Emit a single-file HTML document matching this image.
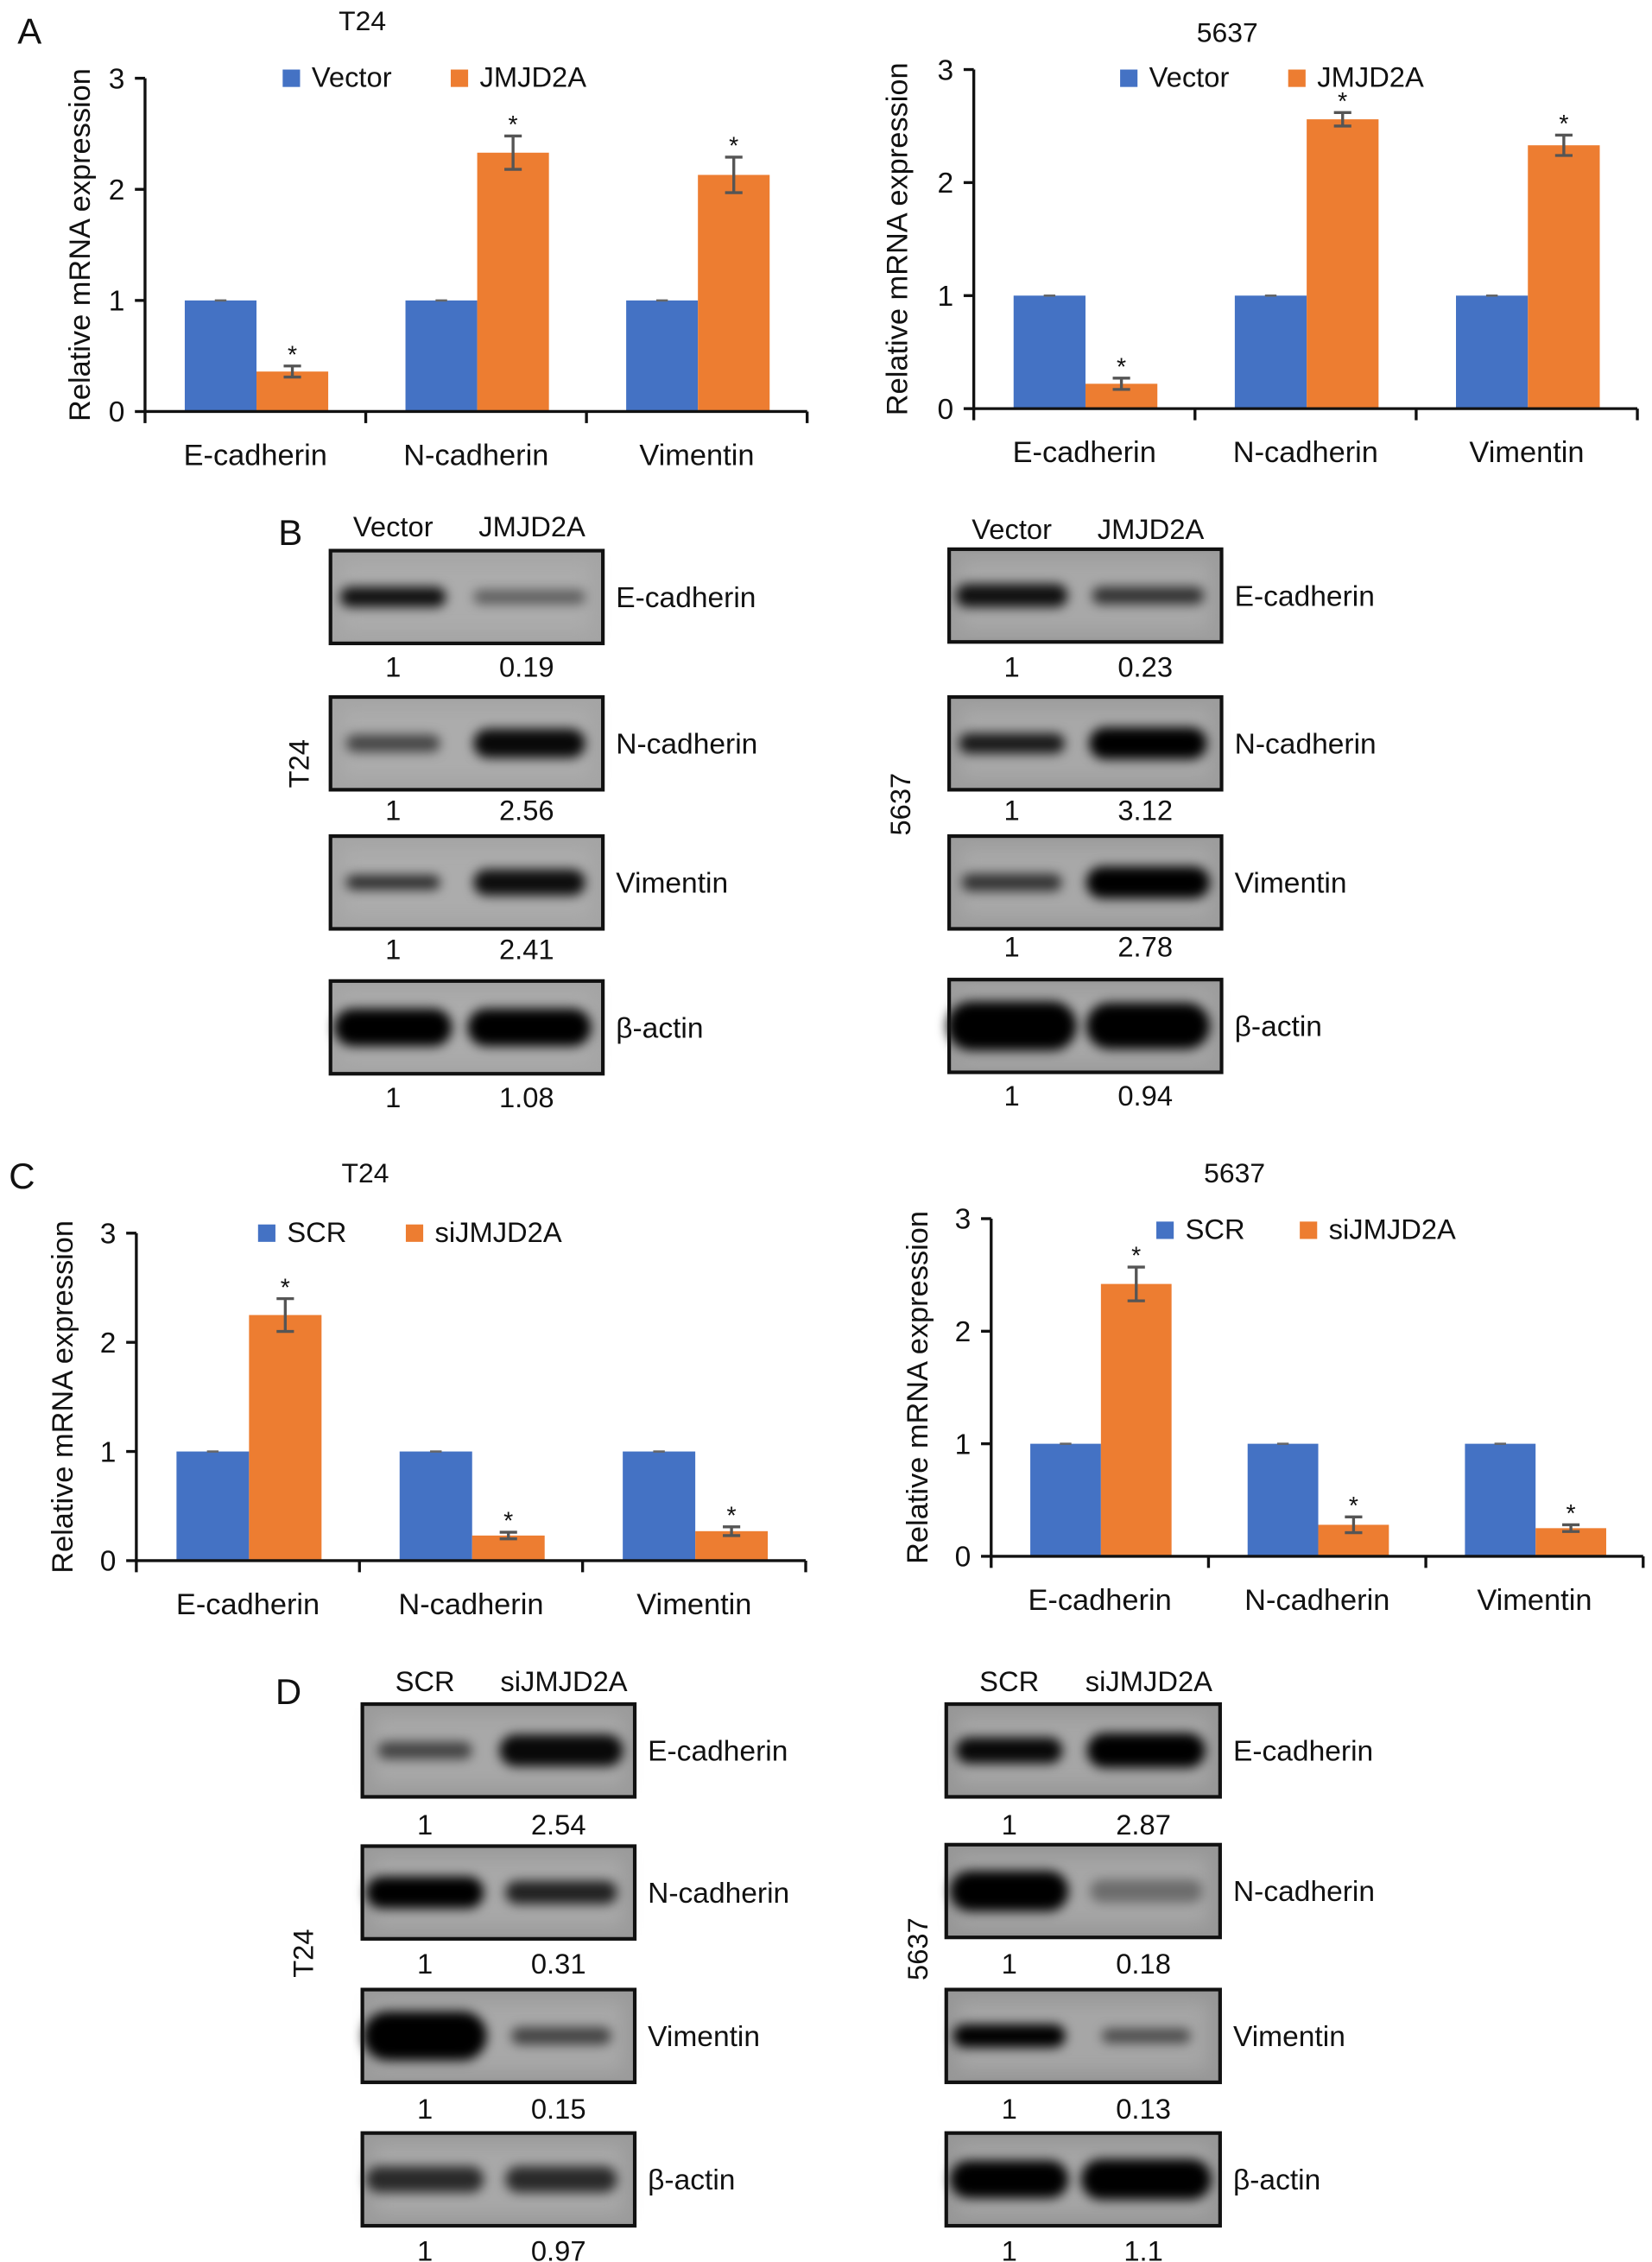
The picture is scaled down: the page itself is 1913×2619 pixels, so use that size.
<!DOCTYPE html>
<html><head><meta charset="utf-8">
<style>
html,body{margin:0;padding:0;background:#fff;}
svg{display:block;font-family:"Liberation Sans",Arial,sans-serif;}
</style></head>
<body>
<svg id="fig" width="1913" height="2619" viewBox="0 0 1140 1561" xmlns="http://www.w3.org/2000/svg">
<defs>
<filter id="blur" x="-30%" y="-80%" width="160%" height="260%"><feGaussianBlur stdDeviation="3.8"/></filter>
<filter id="blur2" x="-10%" y="-10%" width="120%" height="120%"><feGaussianBlur stdDeviation="6"/></filter>
</defs>
<g id="root"></g>
</svg>
<script>
// ---- Chart data ----
const categories = ["E-cadherin","N-cadherin","Vimentin"];
const yTicks = [0,1,2,3];
const aT24Vector = [1,1,1];
const aT24Jmjd = [0.36,2.33,2.13];
const aT24JmjdErr = [0.05,0.15,0.16];
const a5637Vector = [1,1,1];
const a5637Jmjd = [0.22,2.56,2.33];
const a5637JmjdErr = [0.05,0.06,0.09];
const cT24Scr = [1,1,1];
const cT24Si = [2.25,0.23,0.27];
const cT24SiErr = [0.15,0.03,0.04];
const c5637Scr = [1,1,1];
const c5637Si = [2.42,0.28,0.25];
const c5637SiErr = [0.15,0.07,0.03];
// ---- Blot quantification ----
const blotTargets = ["E-cadherin","N-cadherin","Vimentin","β-actin"];
const bT24Values = [["1","0.19"],["1","2.56"],["1","2.41"],["1","1.08"]];
const b5637Values = [["1","0.23"],["1","3.12"],["1","2.78"],["1","0.94"]];
const dT24Values = [["1","2.54"],["1","0.31"],["1","0.15"],["1","0.97"]];
const d5637Values = [["1","2.87"],["1","0.18"],["1","0.13"],["1","1.1"]];

const NS="http://www.w3.org/2000/svg";
const root=document.getElementById('root');
function el(tag,attrs,parent,text){
  const e=document.createElementNS(NS,tag);
  for(const k in attrs) e.setAttribute(k,attrs[k]);
  if(text!==undefined) e.textContent=text;
  (parent||root).appendChild(e);
  return e;
}
function txt(x,y,s,size,parent,anchor,extra){
  const t=el('text',Object.assign({x:x,y:y,'font-size':size,'text-anchor':anchor||'middle',fill:'#111'},extra||{}),parent,s);
  return t;
}

function chart(o){
  const g=el('g',{});
  
  
  const yS=v=>o.y0-(o.y0-o.y3)*v/3;
  const gw=(o.xEnd-o.x0)/categories.length;
  const xS=i=>o.x0+gw*i;
  const t=txt(o.titleX,o.titleY,o.title,19,g);
  
  
  const lg=el('g',{},g);
  
  
  el('rect',{x:o.leg1X,y:o.legY-6,width:12,height:12,fill:'#4472C4'},lg);
  txt(o.leg1X+20,o.legY+6,o.s1,19.5,lg,'start');
  el('rect',{x:o.leg2X,y:o.legY-6,width:12,height:12,fill:'#ED7D31'},lg);
  txt(o.leg2X+20,o.legY+6,o.s2,19.5,lg,'start');
  categories.forEach((c,i)=>{
    const gx=xS(i)+gw*0.18, bw=gw*0.325;
    const b1=el('rect',{x:gx,y:yS(o.d1[i]),width:bw,height:o.y0-yS(o.d1[i]),fill:'#4472C4'},g);
    
    
    el('line',{x1:gx+bw/2-4,x2:gx+bw/2+4,y1:yS(o.d1[i]),y2:yS(o.d1[i]),stroke:'#666','stroke-width':1.5},g);
    const b2=el('rect',{x:gx+bw,y:yS(o.d2[i]),width:bw,height:o.y0-yS(o.d2[i]),fill:'#ED7D31'},g);
    
    
    const cx=gx+bw*1.5, top=yS(o.d2[i]+o.e2[i]), bot=yS(o.d2[i]-o.e2[i]);
    const eb=el('g',{stroke:'#555','stroke-width':2},g);
    
    
    el('line',{x1:cx,x2:cx,y1:top,y2:bot},eb);
    el('line',{x1:cx-6,x2:cx+6,y1:top,y2:top},eb);
    el('line',{x1:cx-6,x2:cx+6,y1:bot,y2:bot},eb);
    const st=txt(cx,top-2,'*',17,g);
    
    
    const cl=txt(xS(i)+gw/2,o.y0+37,c,20.5,g);
    
    
  });
  el('line',{x1:o.x0,x2:o.x0,y1:o.y3,y2:o.y0,stroke:'#111','stroke-width':2},g);
  el('line',{x1:o.x0,x2:o.xEnd,y1:o.y0,y2:o.y0,stroke:'#111','stroke-width':2},g);
  yTicks.forEach(v=>{
    el('line',{x1:o.x0-7,x2:o.x0,y1:yS(v),y2:yS(v),stroke:'#111','stroke-width':2},g);
    const tl=txt(o.x0-14,yS(v)+7,String(v),20,g,'end');
    
    
  });
  for(let i=0;i<=categories.length;i++){
    el('line',{x1:xS(i),x2:xS(i),y1:o.y0,y2:o.y0+8,stroke:'#111','stroke-width':2},g);
  }
  const yl=txt(0,0,'Relative mRNA expression',20.5,g,'middle',{transform:'translate('+o.ylX+','+((o.y0+o.y3)/2)+') rotate(-90)'});
  
  
}

chart({name:'chart-a-t24',title:'T24',titleX:250,titleY:21,leg1X:195,leg2X:311,legY:54,s1:'Vector',s2:'JMJD2A',
  x0:100,xEnd:557,y0:284,y3:54,ylX:62,d1:aT24Vector,d2:aT24Jmjd,e2:aT24JmjdErr});
chart({name:'chart-a-5637',title:'5637',titleX:847,titleY:29,leg1X:773,leg2X:889,legY:54,s1:'Vector',s2:'JMJD2A',
  x0:672,xEnd:1130,y0:282,y3:48,ylX:626,d1:a5637Vector,d2:a5637Jmjd,e2:a5637JmjdErr});
chart({name:'chart-c-t24',title:'T24',titleX:252,titleY:816,leg1X:178,leg2X:280,legY:851,s1:'SCR',s2:'siJMJD2A',
  x0:94,xEnd:556,y0:1077,y3:851,ylX:50,d1:cT24Scr,d2:cT24Si,e2:cT24SiErr});
chart({name:'chart-c-5637',title:'5637',titleX:852,titleY:816,leg1X:798,leg2X:897,legY:849,s1:'SCR',s2:'siJMJD2A',
  x0:684,xEnd:1134,y0:1074,y3:841,ylX:640,d1:c5637Scr,d2:c5637Si,e2:c5637SiErr});

[['A',12,30],['B',192,376],['C',6,820],['D',190,1176]].forEach(p=>{
  const t=txt(p[1],p[2],p[0],25,null,'start');
  
  
});

function blot(o){
  const g=el('g',{});
  
  
  const w=o.x1-o.x0;
  const h1=txt(o.x0+w*0.23,o.hy,o.h1,19.5,g);  
  const h2=txt(o.x0+w*0.74,o.hy,o.h2,19.5,g);  
  o.rows.forEach((ry,r)=>{
    const bg=el('g',{},g);
    
    
    const bh=64;
    el('rect',{x:o.x0,y:ry,width:w,height:bh,fill:o.bg},bg);
    el('rect',{x:o.x0+8,y:ry+8,width:w-16,height:bh-16,fill:o.bg2,filter:'url(#blur2)'},bg);
    o.bands[r].forEach((b,l)=>{
      const cx=o.x0+w*(l===0?0.23:0.73);
      const bw=w*b[1]*1.08, th=b[2];
      el('rect',{x:cx-bw/2,y:ry+bh/2-th/2,width:bw,height:th,rx:th/2,fill:'#000','fill-opacity':b[0],filter:'url(#blur)'},bg);
    });
    el('rect',{x:o.x0,y:ry,width:w,height:bh,fill:'none',stroke:'#111','stroke-width':2.5},bg);
    const lb=txt(o.x1+9,ry+bh/2+7,blotTargets[r],20,g,'start');
    
    
    o.vals[r].forEach((v,l)=>{
      const vt=txt(o.x0+w*(l===0?0.23:0.72),o.ny[r],v,19.5,g);
      
      
    });
  });
  const cl=txt(0,0,o.cell,19.5,g,'middle',{transform:'translate('+o.cx+','+o.cy+') rotate(-90)'});
  
  
}
blot({name:'blot-b-t24',x0:228,x1:416,hy:370,h1:'Vector',h2:'JMJD2A',rows:[380,481,577,677],ny:[467,566,662,764],
  bg:'#a4a4a4',bg2:'#acacac',vals:bT24Values,cell:'T24',cx:213,cy:527,
  bands:[[[0.9,0.36,14],[0.45,0.38,10]],[[0.6,0.32,12],[0.95,0.38,20]],[[0.75,0.32,10],[0.92,0.38,18]],[[1,0.4,26],[1,0.42,26]]]});
blot({name:'blot-b-5637',x0:655,x1:843,hy:372,h1:'Vector',h2:'JMJD2A',rows:[379,481,577,676],ny:[467,566,660,763],
  bg:'#9c9c9c',bg2:'#a8a8a8',vals:b5637Values,cell:'5637',cx:628,cy:555,
  bands:[[[0.9,0.38,16],[0.7,0.38,12]],[[0.85,0.36,14],[1,0.4,22]],[[0.7,0.34,12],[1,0.42,22]],[[1,0.44,34],[1,0.42,32]]]});
blot({name:'blot-d-t24',x0:250,x1:438,hy:1167,h1:'SCR',h2:'siJMJD2A',rows:[1176,1274,1373,1472],ny:[1266,1362,1462,1560],
  bg:'#9a9a9a',bg2:'#a8a8a8',vals:dT24Values,cell:'T24',cx:216,cy:1348,
  bands:[[[0.6,0.32,12],[0.95,0.42,22]],[[1,0.4,22],[0.8,0.38,16]],[[1,0.42,34],[0.6,0.34,12]],[[0.75,0.4,18],[0.75,0.38,18]]]});
blot({name:'blot-d-5637',x0:653,x1:842,hy:1167,h1:'SCR',h2:'siJMJD2A',rows:[1176,1273,1373,1472],ny:[1266,1362,1462,1560],
  bg:'#969696',bg2:'#a6a6a6',vals:d5637Values,cell:'5637',cx:640,cy:1345,
  bands:[[[0.95,0.36,18],[1,0.4,24]],[[1,0.4,28],[0.35,0.38,16]],[[1,0.38,16],[0.55,0.3,10]],[[1,0.4,26],[1,0.44,28]]]});
</script>
</body></html>
